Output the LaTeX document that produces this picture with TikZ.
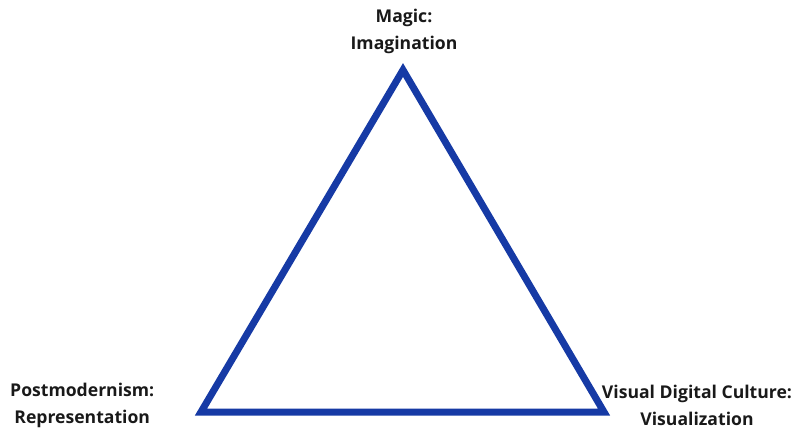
\documentclass[tikz,border=0pt]{standalone}
\usepackage{fontspec}
\setmainfont{Open Sans}
\usepackage{xcolor}
\definecolor{triblue}{RGB}{22,58,165}
\definecolor{labelink}{RGB}{25,25,25}
\usetikzlibrary{positioning}
\tikzset{
  side/.style ={draw=triblue,line width=7pt,line join=miter},
  corner/.style={font=\fontsize{17.6}{27}\selectfont\bfseries,text=labelink,
                 align=center,inner sep=0pt},
}
\begin{document}
\begin{tikzpicture}[x=1pt,y=-1pt]
\useasboundingbox (0,0) rectangle (799,430);
\coordinate (top) at (403,70);
\coordinate (left) at (201,412);
\coordinate (right) at (604,412);
\draw[side] (top) -- (left) -- (right) -- cycle;
% the three labels
\node[corner] (magic) at (404,31) {Magic:\\Imagination};
\node[corner,anchor=west] (post) at (10,405) {Postmodernism:\\Representation};
\node[corner] (visual) at (697,405) {Visual Digital Culture:\\Visualization};
\end{tikzpicture}
\end{document}
